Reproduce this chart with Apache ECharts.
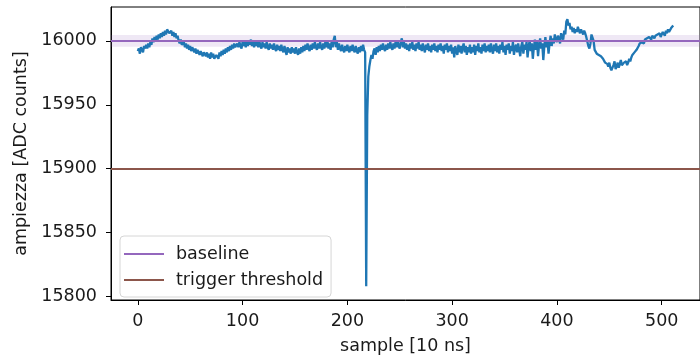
<!DOCTYPE html>
<html>
<head>
<meta charset="utf-8">
<script src="https://cdn.jsdelivr.net/npm/echarts@6/dist/echarts.min.js"></script>
<style>html,body{margin:0;padding:0;background:#fff;}#c{width:700px;height:360px;}</style>
</head>
<body>
<div id="c"></div>
<script>
// waveform samples (ADC counts), sample index = position in array
const trace = [
15992,15994,15990,15995,15993,15991,15996,15994,15997,15994,15998,15995,15999,15997,16002,15999,
16003,16000,16004,16001,16005,16002,16006,16003,16007,16004,16008,16005,16009,16010,16006,16005,
16008,16004,16007,16003,16006,16002,16004,16000,15998,16001,15997,15996,15999,15995,15998,15994,
15997,15993,15996,15992,15995,15996,15991,15994,15990,15993,15994,15989,15992,15993,15988,15991,
15992,15988,15991,15987,15990,15986,15991,15987,15990,15986,15985,15989,15990,15986,15991,15988,
15992,15989,15993,15990,15994,15991,15995,15992,15996,15993,15997,15994,15998,15995,15994,15998,
15995,15999,15996,15994,15999,15996,16000,15995,15999,15996,16000,15997,16001,15996,15999,15995,
16000,15996,15999,15995,16000,15996,15994,15999,15995,15998,15994,15999,15995,15993,15998,15994,
15997,15993,15998,15994,15992,15997,15993,15996,15992,15997,15993,15991,15996,15992,15989,15995,
15991,15994,15990,15995,15991,15994,15990,15995,15991,15989,15994,15990,15995,15991,15996,15992,
15997,15993,15998,15994,15992,15997,15993,15998,15994,15999,15995,15993,15998,15994,15999,15995,
15993,15998,15994,15999,15995,16000,15994,15998,15993,15999,15995,16001,16004,15995,15999,15993,
15998,15994,15992,15997,15993,15991,15996,15992,15997,15993,15991,15996,15992,15997,15993,15991,
15996,15992,15990,15995,15991,15996,15992,15997,15993,15991,15808,15942,15972,15980,15985,15989,
15986,15992,15994,15989,15995,15991,15996,15992,15997,15993,15998,15994,15992,15997,15993,15998,
15994,15999,15995,15993,15998,15994,15999,15995,16000,15996,15994,15999,16002,15995,15999,15994,
15998,15993,15997,15992,15998,15994,15999,15993,15997,15992,15998,15994,15999,15993,15997,15992,
15998,15994,15991,15997,15993,15998,15992,15996,15991,15997,15993,15998,15992,15996,15991,15997,
15993,15998,15992,15996,15990,15997,15993,15998,15991,15996,15992,15997,15990,15995,15987,15996,
15992,15989,15997,15991,15996,15990,15995,15998,15991,15996,15989,15995,15991,15997,15990,15995,
15991,15997,15989,15996,15992,15998,15991,15995,15990,15997,15992,15998,15991,15996,15992,15997,
15991,15998,15993,15990,15997,15992,15998,15991,15996,15990,15997,15993,15999,15991,15996,15989,
15997,15993,15998,15990,15996,15992,15999,15989,15995,15997,15991,15998,15993,15988,15996,15999,
15990,15997,15993,15999,15987,15996,16000,15992,15998,15986,15995,16001,15993,15999,15988,15997,
16002,15994,15998,15985,15996,16003,15995,16000,15990,15998,16004,15996,16002,15998,16005,16001,
15999,16004,16002,15998,16006,16003,16001,16008,16005,16015,16017,16012,16014,16009,16011,16007,
16010,16006,16009,16007,16011,16008,16006,16009,16007,16005,16008,16006,16003,16002,15996,15994,
15998,16005,16006,16000,15993,15992,15990,15991,15989,15990,15988,15987,15986,15985,15983,15984,
15982,15980,15983,15979,15977,15976,15981,15984,15978,15980,15983,15979,15982,15985,15981,15980,
15983,15982,15984,15981,15983,15986,15984,15987,15989,15988,15991,15990,15993,15992,15996,15998,
15997,15999,16000,15998,16001,16000,16002,16001,16003,16002,16001,16004,16003,16002,16004,16003,
16005,16004,16006,16003,16005,16007,16006,16004,16008,16006,16009,16007,16008,16010,16011,16012
];
const baseline = 16000;
const baselineBand = 4.5;
const threshold = 15900;
const xTicks = [0, 100, 200, 300, 400, 500];
const yTicks = [15800, 15850, 15900, 15950, 16000];
const legendNames = ['baseline', 'trigger threshold'];
const xTitle = 'sample [10 ns]';
const yTitle = 'ampiezza [ADC counts]';

const FONT = 'DejaVu Sans';
const TXT = '#1a1a1a';
const chart = echarts.init(document.getElementById('c'), null, {renderer: 'canvas'});
const pts = trace.map((v, i) => [i, v]);
const n = trace.length;
const xMargin = (n - 1) * 0.05;

chart.setOption({
  animation: false,
  backgroundColor: '#fff',
  grid: {left: 111, top: 7, width: 597, height: 298, show: true, borderColor: '#000', borderWidth: 1, backgroundColor: 'transparent'},
  legend: {
    data: legendNames,
    orient: 'vertical',
    left: 120, top: 236,
    icon: 'rect', itemWidth: 40, itemHeight: 2, itemGap: 8,
    padding: [9, 8, 8, 4],
    borderColor: '#d6d6d6', borderWidth: 1, borderRadius: 4,
    backgroundColor: 'rgba(255,255,255,0.8)',
    textStyle: {fontFamily: FONT, fontSize: 17.5, color: TXT, padding: [0, 0, 0, 7]}
  },
  xAxis: {
    type: 'value', min: -xMargin, max: (n - 1) + xMargin,
    name: xTitle, nameLocation: 'middle', nameGap: 37,
    nameTextStyle: {fontFamily: FONT, fontSize: 17.5, color: TXT},
    axisLine: {show: true, onZero: false, lineStyle: {color: '#000', width: 1}},
    axisTick: {show: true, length: 5, lineStyle: {color: '#000'}, customValues: xTicks},
    axisLabel: {fontFamily: FONT, fontSize: 17.5, color: TXT, margin: 12, customValues: xTicks,
      formatter: v => String(v)},
    splitLine: {show: false}
  },
  yAxis: {
    type: 'value', min: 15797.3, max: 16026.5,
    name: yTitle, nameLocation: 'middle', nameGap: 74,
    nameTextStyle: {fontFamily: FONT, fontSize: 17.5, color: TXT},
    axisLine: {show: true, onZero: false, lineStyle: {color: '#000', width: 1}},
    axisTick: {show: true, length: 5, lineStyle: {color: '#000'}, customValues: yTicks},
    axisLabel: {fontFamily: FONT, fontSize: 17.5, color: TXT, margin: 14, customValues: yTicks,
      formatter: v => String(v)},
    splitLine: {show: false}
  },
  series: [
    {
      name: 'trace', type: 'line', data: pts, showSymbol: false, symbol: 'none',
      lineStyle: {color: '#1f77b4', width: 2.3}, itemStyle: {color: '#1f77b4'}, z: 3
    },
    {
      name: legendNames[0], type: 'line', data: [], color: '#9467bd',
      lineStyle: {color: '#9467bd', width: 2}, itemStyle: {color: '#9467bd'}, z: 4,
      markLine: {silent: true, symbol: 'none', label: {show: false},
        lineStyle: {color: '#9467bd', width: 2, type: 'solid'},
        data: [{yAxis: baseline}]},
      markArea: {silent: true, itemStyle: {color: 'rgba(148,103,189,0.15)'},
        data: [[{yAxis: baseline - baselineBand}, {yAxis: baseline + baselineBand}]]}
    },
    {
      name: legendNames[1], type: 'line', data: [], color: '#8c564b',
      lineStyle: {color: '#8c564b', width: 2}, itemStyle: {color: '#8c564b'}, z: 2,
      markLine: {silent: true, symbol: 'none', label: {show: false},
        lineStyle: {color: '#8c564b', width: 2, type: 'solid'},
        data: [{yAxis: threshold}]}
    }
  ]
});
</script>
</body>
</html>
